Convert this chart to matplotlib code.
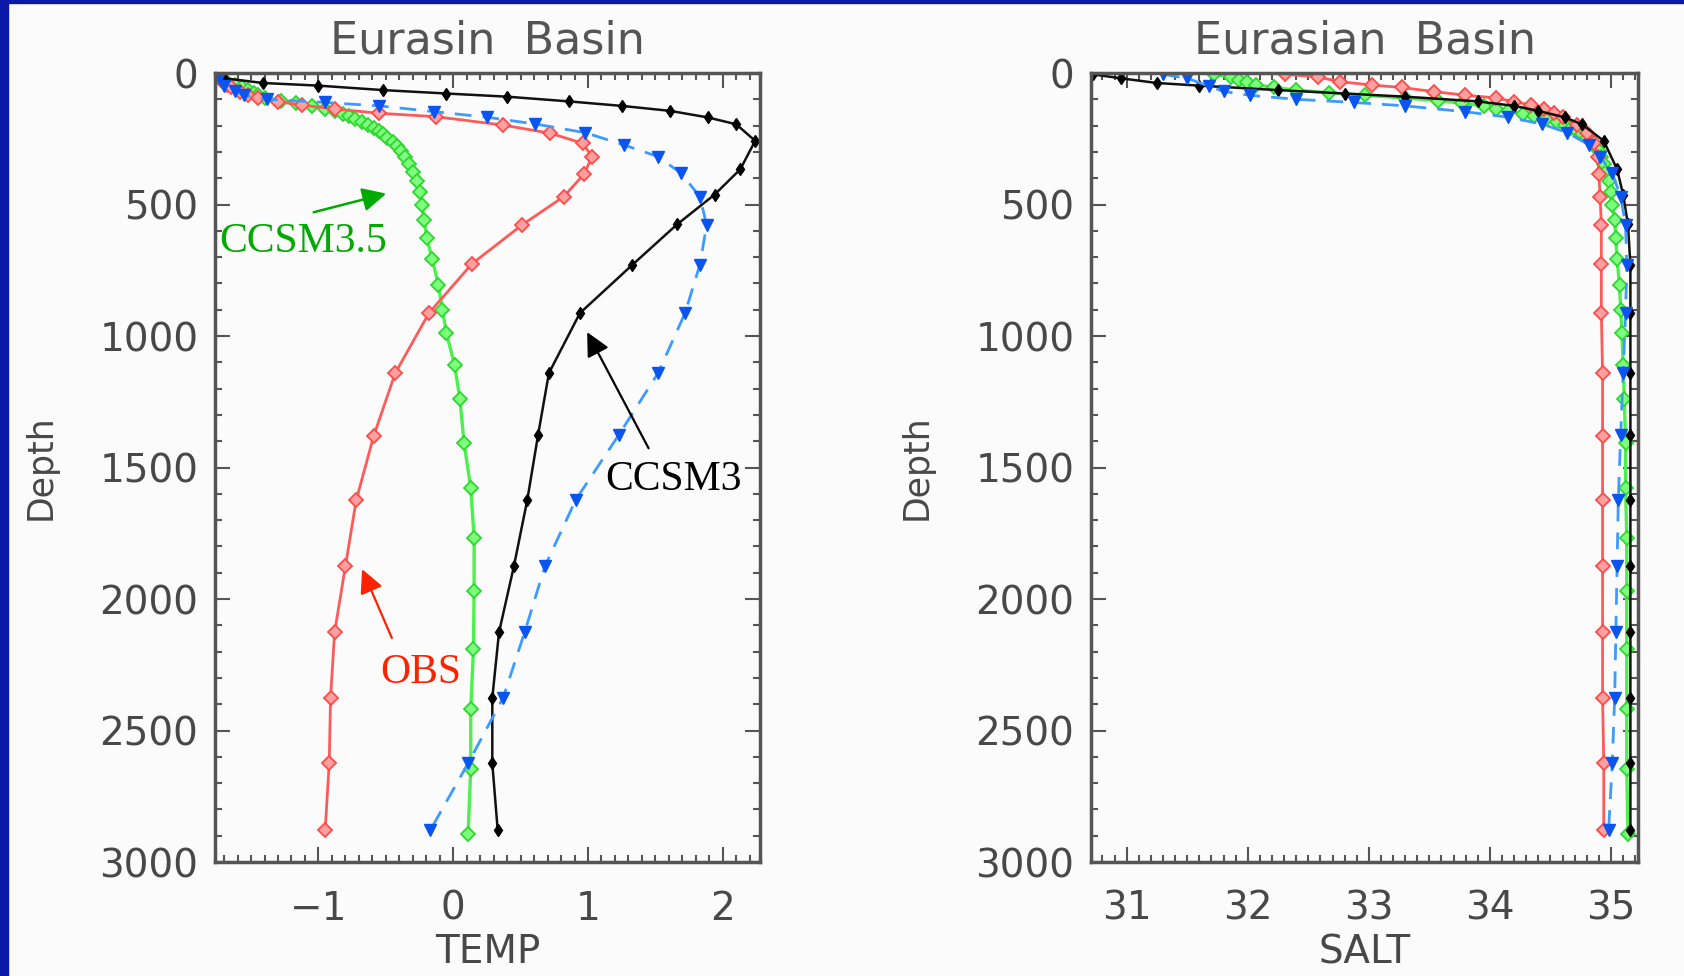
import numpy as np
import matplotlib.pyplot as plt
from matplotlib.ticker import MultipleLocator
from matplotlib.patches import Rectangle

# ---- data ----
# OBS profile
obs_depth = [5, 15, 33, 46, 55, 71, 84, 95, 109, 122, 137, 153, 166, 198, 229,
             267, 318, 385, 470, 578, 725, 913, 1141, 1380, 1625, 1876, 2126,
             2376, 2625, 2879]
obs_temp = [-1.76, -1.74, -1.71, -1.68, -1.65, -1.58, -1.52, -1.45, -1.30, -1.12,
            -0.88, -0.55, -0.13, 0.37, 0.72, 0.96, 1.03, 0.97, 0.82, 0.51,
            0.14, -0.18, -0.43, -0.59, -0.72, -0.80, -0.88, -0.91, -0.92, -0.95]
obs_salt = [32.31, 32.58, 32.76, 33.03, 33.27, 33.54, 33.79, 34.05, 34.20, 34.34,
            34.45, 34.53, 34.60, 34.72, 34.80, 34.86, 34.89, 34.90, 34.91, 34.92,
            34.92, 34.92, 34.93, 34.93, 34.93, 34.93, 34.93, 34.93, 34.94, 34.94]

# CCSM3 profile
ccsm3_depth = [5, 20, 38, 48, 65, 78, 90, 108, 125, 144, 169, 195, 258, 366, 462,
               576, 729, 913, 1141, 1375, 1622, 1876, 2126, 2376, 2625, 2879]
ccsm3_temp = [-1.78, -1.70, -1.41, -1.00, -0.52, -0.05, 0.40, 0.86, 1.25, 1.61,
              1.89, 2.10, 2.24, 2.13, 1.94, 1.66, 1.33, 0.94, 0.71, 0.63, 0.55,
              0.45, 0.34, 0.29, 0.29, 0.33]
ccsm3_salt = [30.72, 30.95, 31.25, 31.60, 32.25, 32.80, 33.30, 33.90, 34.20, 34.40,
              34.62, 34.76, 34.94, 35.05, 35.10, 35.14, 35.16, 35.16, 35.16, 35.16,
              35.16, 35.16, 35.16, 35.16, 35.16, 35.16]

# blue (dashed) profile
blue_depth = [5, 20, 50, 70, 85, 100, 112, 125, 147, 168, 194, 227, 274, 318, 381,
              470, 578, 729, 913, 1141, 1375, 1622, 1876, 2126, 2376, 2625, 2879]
blue_temp = [-1.78, -1.74, -1.70, -1.62, -1.55, -1.38, -0.95, -0.55, -0.14, 0.25,
             0.61, 0.98, 1.27, 1.52, 1.69, 1.83, 1.88, 1.83, 1.72, 1.52, 1.23,
             0.91, 0.68, 0.53, 0.37, 0.11, -0.17]
blue_salt = [31.30, 31.50, 31.68, 31.80, 32.02, 32.40, 32.88, 33.30, 33.79, 34.15,
             34.43, 34.64, 34.82, 34.91, 35.01, 35.08, 35.12, 35.13, 35.12, 35.10,
             35.08, 35.06, 35.05, 35.04, 35.03, 35.01, 34.98]

# CCSM3.5 profile
c35_depth = [5, 15, 25, 35, 45, 55, 65, 75, 85, 95, 105, 115, 125, 135, 145, 155,
             165, 175, 186, 197, 208, 220, 233, 247, 262, 279, 298, 320, 345, 375,
             410, 451, 500, 559, 628, 709, 805, 900, 990, 1110, 1240, 1405, 1578,
             1768, 1971, 2192, 2420, 2648, 2895]
c35_temp = [-1.77, -1.75, -1.72, -1.68, -1.62, -1.57, -1.52, -1.48, -1.45, -1.40,
            -1.28, -1.17, -1.05, -0.95, -0.88, -0.82, -0.77, -0.73, -0.68, -0.63,
            -0.59, -0.55, -0.52, -0.49, -0.45, -0.42, -0.39, -0.36, -0.33, -0.30,
            -0.27, -0.25, -0.235, -0.215, -0.195, -0.155, -0.11, -0.08, -0.05, 0.01,
            0.05, 0.08, 0.13, 0.155, 0.155, 0.15, 0.13, 0.13, 0.11]
c35_salt = [31.72, 31.86, 31.93, 31.99, 32.07, 32.22, 32.40, 32.67, 32.97, 33.30,
            33.57, 33.77, 33.95, 34.05, 34.15, 34.27, 34.36, 34.46, 34.55, 34.62,
            34.67, 34.72, 34.76, 34.80, 34.84, 34.87, 34.90, 34.92, 34.94, 34.96,
            34.98, 35.00, 35.01, 35.03, 35.04, 35.05, 35.07, 35.08, 35.09, 35.10,
            35.11, 35.12, 35.12, 35.13, 35.13, 35.13, 35.13, 35.13, 35.14]

titles = ['Eurasin  Basin', 'Eurasian  Basin']
xlabels = ['TEMP', 'SALT']

bg = '#fbfbfb'
axc = '#555555'
txc = '#484848'

fig = plt.figure(figsize=(16.84, 9.76), dpi=100, facecolor=bg)
# blue slide frame
fig.patches.append(Rectangle((0, 0), 8 / 1684, 1, transform=fig.transFigure,
                             color='#0a18a8', zorder=10))
fig.patches.append(Rectangle((0, 1 - 3 / 976), 1, 3 / 976, transform=fig.transFigure,
                             color='#0a18a8', zorder=10))

ax1 = fig.add_axes([0.1277, 0.1168, 0.3236, 0.8084])
ax2 = fig.add_axes([0.6479, 0.1168, 0.3248, 0.8084])


def draw(ax, key):
    ax.set_facecolor(bg)
    sets = [
        (c35_depth, c35_temp, c35_salt, dict(color='#4ef04e', lw=2.4, marker='D', ms=7,
                                            mfc='#7dff7d', mec='#2fd62f', mew=1.3)),
        (obs_depth, obs_temp, obs_salt, dict(color='#ff5a5a', lw=2.0, marker='D', ms=7,
                                            mfc='#ffa0a0', mec='#ff4a4a', mew=1.3)),
        (ccsm3_depth, ccsm3_temp, ccsm3_salt, dict(color='#111111', lw=1.8, marker='d', ms=6,
                                                  mfc='#000000', mec='#000000')),
        (blue_depth, blue_temp, blue_salt, dict(color='#3d9bff', lw=2.0, ls=(0, (6, 4)),
                                               marker='v', ms=9, mfc='#0a55f0', mec='#0a55f0')),
    ]
    for d, t, s, kw in sets:
        ax.plot(t if key == 'temp' else s, d, **kw)
    ax.set_ylim(3000, 0)
    ax.yaxis.set_major_locator(MultipleLocator(500))
    ax.yaxis.set_minor_locator(MultipleLocator(100))
    ax.xaxis.set_minor_locator(MultipleLocator(0.1))
    ax.tick_params(which='both', direction='in', top=True, right=True,
                   color=axc, width=1.5, labelcolor=txc, labelsize=28)
    ax.tick_params(which='major', length=11)
    ax.tick_params(which='minor', length=5)
    ax.tick_params(axis='x', pad=20)
    ax.tick_params(axis='y', pad=12)
    for sp in ax.spines.values():
        sp.set_color(axc)
        sp.set_linewidth(2.5)
    ax.set_ylabel('Depth', fontsize=25, color=txc, labelpad=30)


draw(ax1, 'temp')
ax1.set_xlim(-1.767, 2.276)
ax1.xaxis.set_major_locator(MultipleLocator(1))
draw(ax2, 'salt')
ax2.set_xlim(30.706, 35.223)
ax2.xaxis.set_major_locator(MultipleLocator(1))

for ax, ttl, xl in zip([ax1, ax2], titles, xlabels):
    ax.set_title(ttl, fontsize=32, color='#555555', pad=14)
    ax.set_xlabel(xl, fontsize=28, color=txc, labelpad=4)

# annotations on the temperature panel
serif = 'Liberation Serif'
ax1.text(-1.114, 642, 'CCSM3.5', color='#00aa00', fontsize=30, family=serif,
         ha='center', va='center')
ax1.annotate('', xy=(-0.477, 456), xytext=(-1.055, 532),
             arrowprops=dict(arrowstyle='-|>', color='#00aa00', lw=1.8, mutation_scale=36))
ax1.text(1.632, 1546, 'CCSM3', color='black', fontsize=30, family=serif,
         ha='center', va='center')
ax1.annotate('', xy=(0.984, 976), xytext=(1.459, 1436),
             arrowprops=dict(arrowstyle='-|>', color='black', lw=1.6, mutation_scale=36))
ax1.text(-0.239, 2280, 'OBS', color='#ff2200', fontsize=30, family=serif,
         ha='center', va='center')
ax1.annotate('', xy=(-0.684, 1877), xytext=(-0.447, 2158),
             arrowprops=dict(arrowstyle='-|>', color='#ff2200', lw=1.6, mutation_scale=36))

fig.savefig('out.png', dpi=100, facecolor=bg)
